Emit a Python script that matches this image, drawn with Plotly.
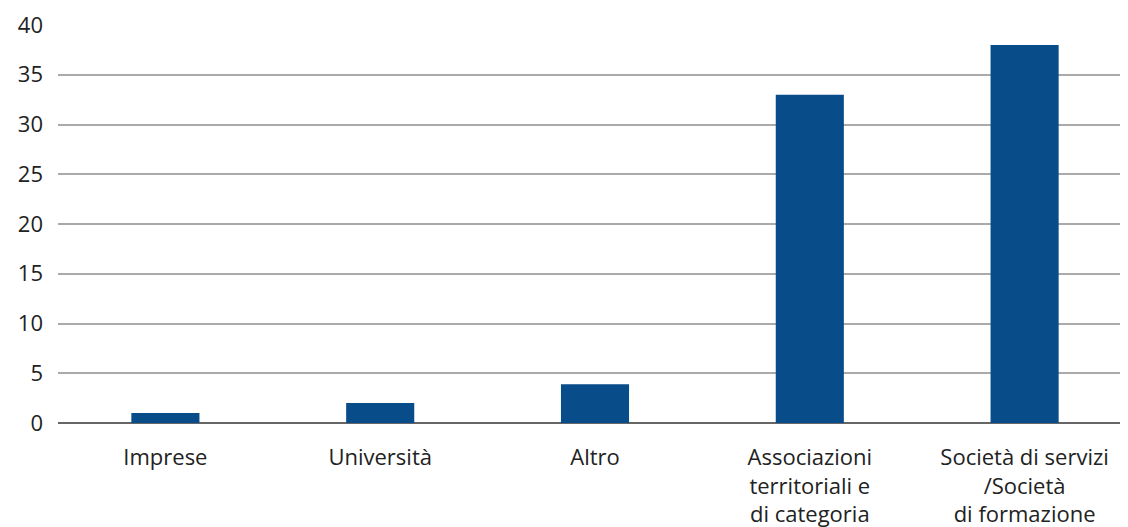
import plotly.graph_objects as go

categories = ["Imprese", "Università", "Altro",
              "Associazioni<br>territoriali e<br>di categoria",
              "Società di servizi<br>/Società<br>di formazione"]
values = [1, 2, 3.9, 33, 38]
y_ticks = [0, 5, 10, 15, 20, 25, 30, 35, 40]

fig = go.Figure(go.Bar(x=categories, y=values, marker_color="#084d8a",
                       marker_line_width=0, width=0.317))

fig.update_layout(
    width=1128, height=519,
    margin=dict(l=50, r=4, t=17, b=104),
    paper_bgcolor="white", plot_bgcolor="white",
    font=dict(family="Open Sans", size=22, color="#222222"),
    showlegend=False,
)
fig.update_xaxes(showgrid=False, showline=False, ticks="", automargin=False,
                 ticklabelstandoff=19, tickfont=dict(size=22))
fig.update_yaxes(range=[0, 40], tickvals=y_ticks, showgrid=True, automargin=False,
                 gridcolor="#aaaaaa", gridwidth=1.5,
                 zeroline=True, zerolinecolor="#666666", zerolinewidth=2,
                 showline=False, ticks="", ticklabelstandoff=14,
                 tickfont=dict(size=22))

fig.write_html("out.html")
